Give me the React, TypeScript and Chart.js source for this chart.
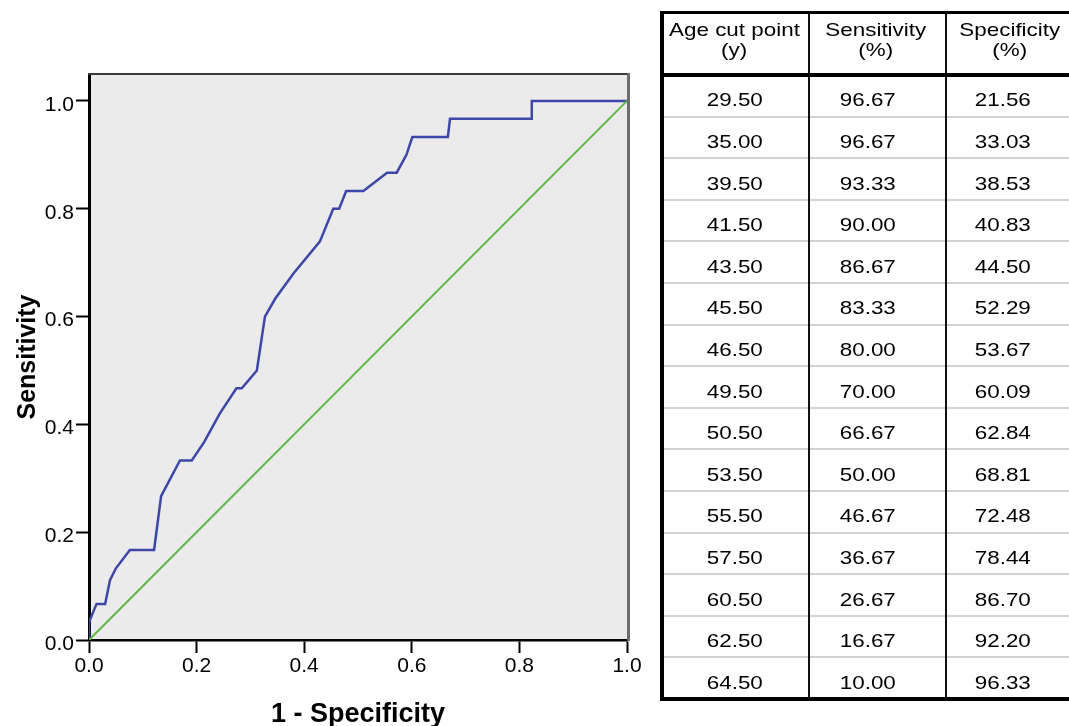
import React, { useEffect, useRef } from "react";
import { Chart, registerables } from "chart.js";

Chart.register(...registerables);

// ROC curve (1 - specificity, sensitivity)
const rocFpr = [0, 0, 0.014, 0.03, 0.039, 0.05, 0.076, 0.121, 0.134, 0.169, 0.191, 0.214, 0.243, 0.274, 0.284, 0.312, 0.327, 0.346, 0.38, 0.429, 0.454, 0.465, 0.478, 0.51, 0.554, 0.572, 0.59, 0.601, 0.667, 0.671, 0.823, 0.823, 1];
const rocTpr = [0, 0.033, 0.067, 0.067, 0.111, 0.133, 0.167, 0.167, 0.267, 0.333, 0.333, 0.367, 0.42, 0.467, 0.467, 0.5, 0.6, 0.633, 0.68, 0.739, 0.8, 0.8, 0.833, 0.833, 0.867, 0.867, 0.9, 0.933, 0.933, 0.967, 0.967, 1, 1];
// reference (chance) line
const refFpr = [0, 1];
const refTpr = [0, 1];

const xTitle = "1 - Specificity";
const yTitle = "Sensitivity";

// table
const tableHeaders = [
  ["Age cut point", "(y)"],
  ["Sensitivity", "(%)"],
  ["Specificity", "(%)"],
];
const cutPoints = [29.5, 35.0, 39.5, 41.5, 43.5, 45.5, 46.5, 49.5, 50.5, 53.5, 55.5, 57.5, 60.5, 62.5, 64.5];
const sensitivityPct = [96.67, 96.67, 93.33, 90.0, 86.67, 83.33, 80.0, 70.0, 66.67, 50.0, 46.67, 36.67, 26.67, 16.67, 10.0];
const specificityPct = [21.56, 33.03, 38.53, 40.83, 44.5, 52.29, 53.67, 60.09, 62.84, 68.81, 72.48, 78.44, 86.7, 92.2, 96.33];

const FONT = "'Liberation Sans', Arial, Helvetica, sans-serif";

const framePlugin = {
  id: "frame",
  beforeDraw(chart: any) {
    const { ctx, chartArea } = chart;
    const { left, top, right, bottom } = chartArea;
    ctx.save();
    ctx.fillStyle = "#ebebeb";
    ctx.fillRect(left, top, right - left, bottom - top);
    ctx.restore();
  },
  afterDraw(chart: any) {
    const { ctx, chartArea } = chart;
    const { left, top, right, bottom } = chartArea;
    ctx.save();
    ctx.strokeStyle = "#3a3a3a";
    ctx.lineWidth = 2;
    ctx.beginPath();
    ctx.moveTo(left - 1, top);
    ctx.lineTo(right + 3, top);
    ctx.stroke();
    ctx.strokeStyle = "#6d6d6d";
    ctx.lineWidth = 3;
    ctx.beginPath();
    ctx.moveTo(right + 1.5, top - 1);
    ctx.lineTo(right + 1.5, bottom + 1);
    ctx.stroke();
    ctx.restore();
  },
};

function RocChart() {
  const ref = useRef<HTMLCanvasElement | null>(null);
  useEffect(() => {
    if (!ref.current) return;
    const chart = new Chart(ref.current, {
      type: "scatter",
      data: {
        datasets: [
          {
            label: "Reference",
            data: refFpr.map((x, i) => ({ x, y: refTpr[i] })),
            showLine: true,
            borderColor: "#5cb848",
            borderWidth: 2,
            pointRadius: 0,
            tension: 0,
          },
          {
            label: "ROC",
            data: rocFpr.map((x, i) => ({ x, y: rocTpr[i] })),
            showLine: true,
            borderColor: "#3d47a6",
            borderWidth: 2.5,
            pointRadius: 0,
            tension: 0,
          },
        ],
      },
      options: {
        animation: false,
        responsive: false,
        events: [],
        layout: { padding: { top: 74, right: 33, left: 0, bottom: 0 } },
        plugins: { legend: { display: false }, tooltip: { enabled: false } },
        scales: {
          x: {
            type: "linear",
            min: 0,
            max: 1,
            ticks: {
              stepSize: 0.2,
              maxRotation: 0,
              autoSkip: false,
              padding: 1,
              color: "#000",
              font: { family: FONT, size: 21 },
              callback: (v: any) => Number(v).toFixed(1),
            },
            grid: {
              display: true,
              drawOnChartArea: false,
              drawTicks: true,
              tickLength: 13,
              tickWidth: 2,
              tickColor: "#000",
            },
            border: { display: true, color: "#000", width: 2.5 },
            title: {
              display: true,
              text: xTitle,
              color: "#000",
              font: { family: FONT, size: 27, weight: "bold", lineHeight: 1 },
              padding: { top: 0, bottom: -2 },
            },
            afterFit: (s: any) => {
              s.height = 86;
            },
          },
          y: {
            type: "linear",
            min: 0,
            max: 1.05,
            afterBuildTicks: (s: any) => {
              s.ticks = s.ticks.filter((t: any) => t.value <= 1.0001);
            },
            ticks: {
              stepSize: 0.2,
              includeBounds: false,
              padding: 2,
              labelOffset: 4,
              color: "#000",
              font: { family: FONT, size: 21 },
              callback: (v: any) => Number(v).toFixed(1),
            },
            grid: {
              display: true,
              drawOnChartArea: false,
              drawTicks: true,
              tickLength: 13,
              tickWidth: 2,
              tickColor: "#000",
            },
            border: { display: true, color: "#000", width: 3 },
            title: {
              display: true,
              text: yTitle,
              color: "#000",
              font: { family: FONT, size: 25, weight: "bold", lineHeight: 1.2 },
              padding: { top: 13, bottom: 0 },
            },
            afterFit: (s: any) => {
              s.width = 89;
            },
          },
        },
      },
      plugins: [framePlugin],
    } as any);
    return () => chart.destroy();
  }, []);
  return (
    <canvas
      ref={ref}
      width={660}
      height={726}
      style={{ position: "absolute", left: 0, top: 0, width: 660, height: 726, display: "block" }}
    />
  );
}

const colCentersHeader = [734, 875.5, 1010];
const colCentersData = [735, 867.5, 1002.5];
const ROW0_TOP = 75;
const ROW_H = 41.6;

function Txt({ cx, top, text }: { cx: number; top: number; text: string }) {
  return (
    <div
      style={{
        position: "absolute",
        left: cx - 100,
        top,
        width: 200,
        textAlign: "center",
        fontFamily: FONT,
        fontSize: 19,
        lineHeight: "20px",
        color: "#000",
        whiteSpace: "nowrap",
      }}
    >
      <span style={{ display: "inline-block", transform: "scaleX(1.18)", transformOrigin: "center" }}>{text}</span>
    </div>
  );
}

function RocTable() {
  const rows = cutPoints.map((c, i) => [c.toFixed(2), sensitivityPct[i].toFixed(2), specificityPct[i].toFixed(2)]);
  const bottomY = ROW0_TOP + ROW_H * rows.length;
  const line = (style: React.CSSProperties, key: string) => (
    <div key={key} style={{ position: "absolute", ...style }} />
  );
  const parts: React.ReactNode[] = [];
  for (let k = 1; k < rows.length; k++) {
    parts.push(line({ left: 662, width: 420, top: ROW0_TOP + ROW_H * k - 1, height: 2, background: "#d3d3d3" }, "sep" + k));
  }
  parts.push(line({ left: 808, width: 2, top: 11, height: bottomY - 11, background: "#111" }, "c1"));
  parts.push(line({ left: 945, width: 2, top: 11, height: bottomY - 11, background: "#111" }, "c2"));
  parts.push(line({ left: 660, width: 420, top: 10.5, height: 3.5, background: "#000" }, "top"));
  parts.push(line({ left: 660, width: 420, top: 73.3, height: 3.4, background: "#000" }, "hdr"));
  parts.push(line({ left: 660, width: 420, top: bottomY - 2.5, height: 4, background: "#000" }, "bot"));
  parts.push(line({ left: 660, width: 4, top: 10.5, height: bottomY - 9, background: "#000" }, "left"));
  return (
    <>
      {parts}
      {tableHeaders.map((h, j) =>
        h.map((t, l) => <Txt key={"h" + j + l} cx={colCentersHeader[j]} top={20.2 + 20 * l} text={t} />)
      )}
      {rows.map((r, i) =>
        r.map((t, j) => <Txt key={"d" + i + j} cx={colCentersData[j]} top={90.4 + ROW_H * i} text={t} />)
      )}
    </>
  );
}

export default function App() {
  return (
    <div style={{ position: "absolute", left: 0, top: 0, width: 1069, height: 726, overflow: "hidden", background: "#fff" }}>
      <RocChart />
      <RocTable />
    </div>
  );
}
